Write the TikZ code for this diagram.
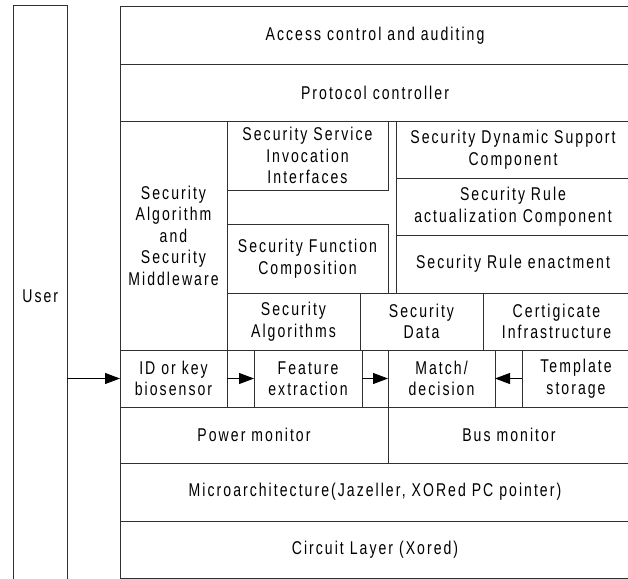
\documentclass[tikz,border=0pt]{standalone}
\usepackage{fontspec}
\setmainfont{Liberation Sans}[FakeStretch=0.76,LetterSpace=11]
\usetikzlibrary{arrows.meta}
\definecolor{linec}{HTML}{303030}
\tikzset{
  cell/.style={draw=linec, line width=1pt, rectangle, inner sep=0pt, outer sep=0pt,
    anchor=north west, align=center, font=\fontsize{18.5}{21.5}\selectfont},
  sz/.style 2 args={minimum width=#1pt, minimum height=#2pt},
  arr/.style={draw=black, line width=1pt, -{Triangle[length=15pt,width=11pt]}}
}
\begin{document}
\begin{tikzpicture}[x=1pt,y=-1pt]
\useasboundingbox (0,0) rectangle (628,578);
\fill[white] (0,0) rectangle (628,578);
\node[cell, sz={53.5}{580}] (user) at (13.5,6) {User};
\node[cell, sz={510}{57}] (access) at (120,7) {Access control and auditing};
\node[cell, sz={510}{57}] (proto) at (120,64) {Protocol controller};
\node[cell, sz={107}{229}] (secalg) at (120,121) {Security\\Algorithm\\and\\Security\\Middleware};
\node[cell, sz={161}{69}] (ssii) at (227,121) {Security Service\\Invocation\\Interfaces};
\node[cell, sz={161}{69}] (sfc) at (227,224) {Security Function\\Composition};
\node[cell, sz={234}{57}] (sdsc) at (396,121) {Security Dynamic Support\\Component};
\node[cell, sz={234}{57}] (srac) at (396,178) {Security Rule\\actualization Component};
\node[cell, sz={234}{58}] (sre) at (396,235) {Security Rule enactment};
\node[cell, sz={133}{57}] (salg) at (227,293) {Security\\Algorithms};
\node[cell, sz={123}{57}] (sdata) at (360,293) {Security\\Data};
\node[cell, sz={147}{57}] (cert) at (483,293) {Certigicate\\Infrastructure};
\node[cell, sz={107}{57}] (idkey) at (120,350) {ID or key\\biosensor};
\node[cell, sz={27}{57}] (g1) at (227,350) {};
\node[cell, sz={108}{57}] (fe) at (254,350) {Feature\\extraction};
\node[cell, sz={26}{57}] (g2) at (362,350) {};
\node[cell, sz={107}{57}] (md) at (388,350) {Match/\\decision};
\node[cell, sz={27}{57}] (g3) at (495,350) {};
\node[cell, sz={108}{57}] (ts) at (522,350) {Template\\storage};
\node[cell, sz={268}{56}] (power) at (120,407) {Power monitor};
\node[cell, sz={242}{56}] (bus) at (388,407) {Bus monitor};
\node[cell, sz={510}{58}] (micro) at (120,463) {Microarchitecture(Jazeller, XORed PC pointer)};
\node[cell, sz={510}{57}] (circuit) at (120,521) {Circuit Layer (Xored)};
\draw[arr] (user.east |- idkey.west) -- (idkey.west);
\draw[arr] (idkey.east) -- (fe.west);
\draw[arr] (fe.east) -- (md.west);
\draw[arr] (ts.west) -- (md.east);
\end{tikzpicture}
\end{document}
